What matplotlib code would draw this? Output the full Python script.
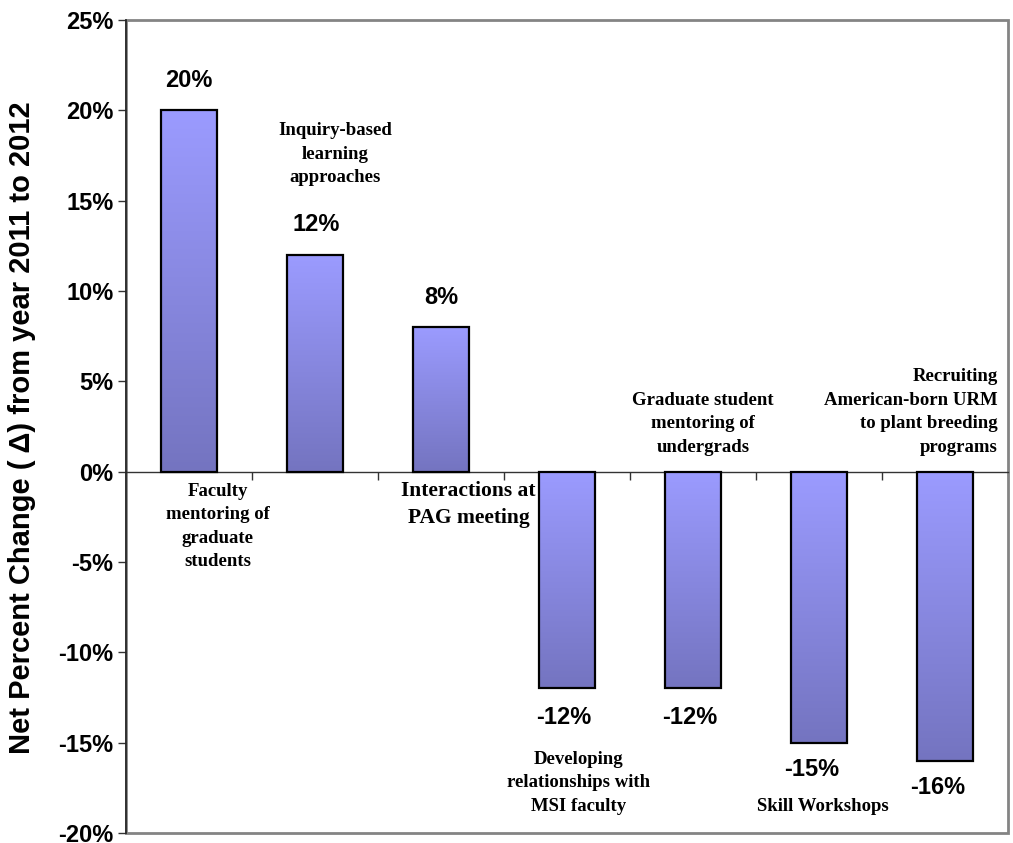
import numpy as np
import matplotlib
matplotlib.use("Agg")
import matplotlib.pyplot as plt
from matplotlib.patches import Rectangle

# ---- data ----
categories = [
    "Faculty\nmentoring of\ngraduate\nstudents",
    "Inquiry-based\nlearning\napproaches",
    "Interactions at\nPAG meeting",
    "Developing\nrelationships with\nMSI faculty",
    "Graduate student\nmentoring of\nundergrads",
    "Recruiting\nAmerican-born URM\nto plant breeding\nprograms",
    "Skill Workshops",
]
values = [20, 12, 8, -12, -12, -15, -16]
value_labels = ["20%", "12%", "8%", "-12%", "-12%", "-15%", "-16%"]
ytick_values = [25, 20, 15, 10, 5, 0, -5, -10, -15, -20]
ytick_labels = ["25%", "20%", "15%", "10%", "5%", "0%", "-5%", "-10%", "-15%", "-20%"]
ylabel = "Net Percent Change ( \u0394) from year 2011 to 2012"

# category label placement (data coords) and alignment
cat_pos = [(0.23, -3.04, "center"), (1.16, 17.56, "center"), (2.22, -1.82, "center"),
           (3.09, -17.23, "center"), (4.08, 2.65, "center"), (6.42, 3.31, "right"),
           (5.03, -18.55, "center")]
cat_size = [13.5, 13.5, 15.5, 13.5, 13.5, 13.5, 13.5]
cat_ls = [1.5, 1.5, 1.45, 1.5, 1.5, 1.5, 1.5]
# value label offsets (points)
val_off = [(0, 21.6), (1, 21.6), (0, 21), (-2, -21), (-2, -21), (-5, -19.5), (-5, -19.5)]

W, H = 1013, 843
fig = plt.figure(figsize=(W / 100, H / 100), dpi=100)
ax = fig.add_axes([126 / W, 1 - 833 / H, (1008 - 126) / W, (833 - 20) / H])

x = np.arange(len(values))
bars = ax.bar(x, values, width=0.44, color="none", edgecolor="black",
              linewidth=1.6, zorder=4)

top_col = np.array([0x9b, 0x9b, 0xff]) / 255
bot_col = np.array([0x74, 0x74, 0xc0]) / 255
grad = np.linspace(0, 1, 256)[:, None]
img = top_col[None, None, :] * (1 - grad[:, :, None]) + bot_col[None, None, :] * grad[:, :, None]
for b in bars:
    x0, y0 = b.get_x(), b.get_y()
    w, h = b.get_width(), b.get_height()
    ylo, yhi = min(y0, y0 + h), max(y0, y0 + h)
    im = ax.imshow(img, extent=[x0, x0 + w, ylo, yhi], origin="upper",
                   aspect="auto", zorder=3, interpolation="bilinear")
    im.set_clip_path(b)

ax.set_xlim(-0.5, len(values) - 0.5)
ax.set_ylim(-20, 25)

# spines
for s in ["top", "right"]:
    ax.spines[s].set_visible(False)
ax.spines["left"].set_color("#222222")
ax.spines["left"].set_linewidth(1.2)
ax.spines["bottom"].set_position(("data", 0))
ax.spines["bottom"].set_color("#333333")
ax.spines["bottom"].set_linewidth(1.0)
ax.spines["bottom"].set_zorder(2)

# gray outer frame
frame = Rectangle((0, 0), 1, 1, transform=ax.transAxes, fill=False,
                  edgecolor="#848484", linewidth=2.0, clip_on=False, zorder=1)
ax.add_patch(frame)

ax.set_xticks(np.arange(len(values) - 1) + 0.5)
ax.set_xticklabels([])
ax.tick_params(axis="x", direction="out", length=6, width=1, color="#333333")
ax.set_yticks(ytick_values)
ax.set_yticklabels(ytick_labels, fontfamily="Liberation Sans", fontweight="bold",
                   fontsize=17)
ax.tick_params(axis="y", direction="out", length=6, width=1, pad=3, color="#333333")

fig.text(22 / W, 1 - 428 / H, ylabel, rotation=90, ha="center", va="center",
         fontfamily="Liberation Sans", fontweight="bold", fontsize=21)

for i, (v, lab) in enumerate(zip(values, value_labels)):
    dx, dy = val_off[i]
    ax.annotate(lab, (x[i], v), xytext=(dx, dy), textcoords="offset points",
                ha="center", va="center", fontfamily="Liberation Sans",
                fontweight="bold", fontsize=17, zorder=5)

for i, cat in enumerate(categories):
    cx, cy, ha = cat_pos[i]
    ax.text(cx, cy, cat, ha=ha, va="center", multialignment=ha,
            fontfamily="Liberation Serif", fontweight="bold",
            fontsize=cat_size[i], linespacing=cat_ls[i], zorder=2)

fig.savefig("out.png", dpi=100)
